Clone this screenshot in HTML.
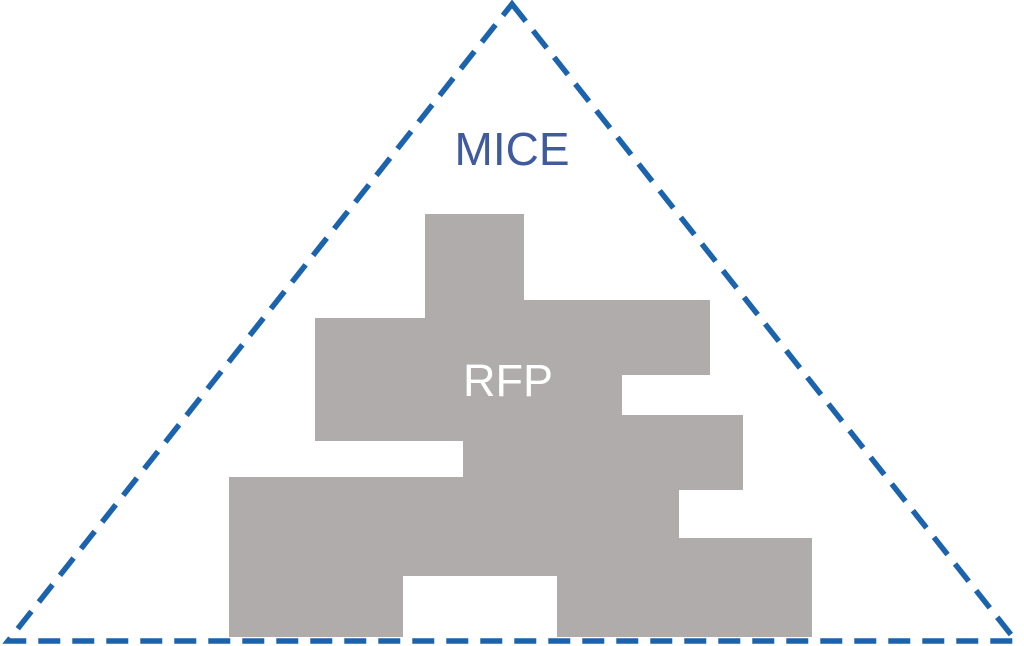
<!DOCTYPE html>
<html><head><meta charset="utf-8"><style>html,body{margin:0;padding:0;background:#fff;width:1024px;height:646px;overflow:hidden}</style></head>
<body>
<svg width="1024" height="646" viewBox="0 0 1024 646" xmlns="http://www.w3.org/2000/svg">
<polygon points="425,214 524,214 524,300 710,300 710,375 622,375 622,415 743,415 743,490 679,490 679,538 812,538 812,637 557,637 557,576 403,576 403,637 229,637 229,477 463,477 463,441 315,441 315,318 425,318" fill="#afacab"/>
<polygon points="512,4 1016,641 8,641" fill="none" stroke="#1b63ad" stroke-width="5.5" stroke-dasharray="22,12"/>
<text x="512" y="165" text-anchor="middle" font-family="Liberation Sans, sans-serif" font-size="46" fill="#3f5b9e">MICE</text>
<text x="508" y="396" text-anchor="middle" font-family="Liberation Sans, sans-serif" font-size="45" fill="#ffffff">RFP</text>
</svg>
</body></html>
